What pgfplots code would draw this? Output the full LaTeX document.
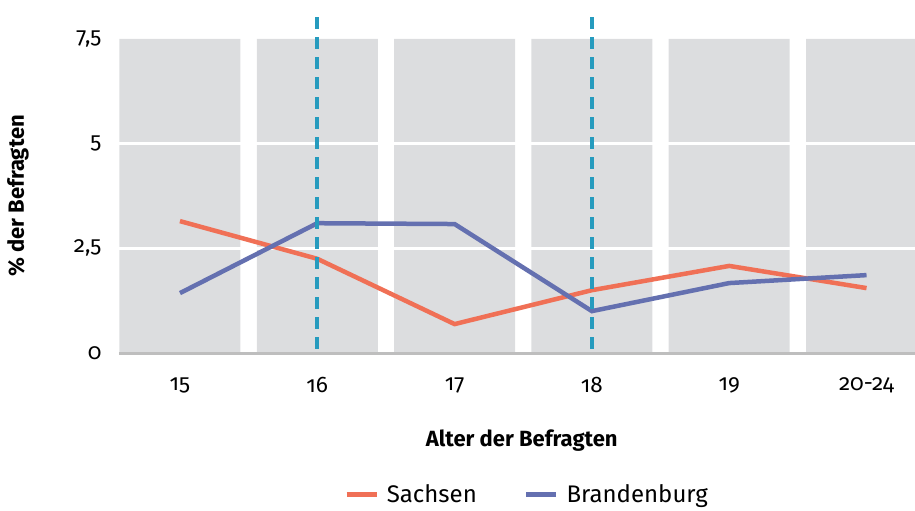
\documentclass[border=0pt]{standalone}
\usepackage{fontspec}
\setmainfont{Fira Sans}[Numbers=OldStyle]
\usepackage{pgfplots}
\pgfplotsset{compat=1.18}
\definecolor{bggray}{RGB}{220,221,223}
\definecolor{sachsen}{RGB}{240,112,86}
\definecolor{brand}{RGB}{100,112,176}
\definecolor{dteal}{RGB}{38,155,190}
\definecolor{axgray}{RGB}{190,190,190}
\begin{document}
\fontsize{22}{26}\selectfont
\begin{tikzpicture}
\begin{axis}[
  scale only axis,
  width=796pt, height=314pt,
  xmin=-0.444, xmax=5.353,
  ymin=0, ymax=7.5,
  clip=false,
  axis line style={draw=none},
  major tick length=0pt,
  xtick={0,1,2,3,4,5},
  xticklabels={15,16,17,18,19,20-24},
  ytick={0,2.5,5,7.5},
  /pgf/number format/use comma,
  /pgf/number format/assume math mode=true,
  tick label style={font=\fontsize{22.5}{26}\selectfont},
  xticklabel style={yshift=-17pt},
  yticklabel style={xshift=-10pt},
  xlabel={\bfseries Alter der Befragten},
  ylabel={\bfseries \% der Befragten},
  xlabel style={at={(axis description cs:0.506,-0.280)}, anchor=center, font=\fontsize{22}{26}\selectfont},
  ylabel style={at={(axis description cs:-0.127,0.5)}, anchor=center, font=\fontsize{22}{26}\selectfont},
  legend columns=2,
  legend style={draw=none, fill=none, at={(axis description cs:0.5125,-0.452)}, anchor=center,
    font=\fontsize{24}{28}\selectfont,
    /tikz/every even column/.append style={column sep=45pt}},
  legend image code/.code={\draw[#1, line width=5pt] (0pt,0pt) -- (30pt,0pt); \path (36pt,0pt);},
]
% gray column backgrounds
\addplot[ybar, fill=bggray, draw=none, bar width=0.881, forget plot]
  coordinates {(0,7.5) (1,7.5) (2,7.5) (3,7.5) (4,7.5) (5,7.5)};
% white grid lines
\addplot[white, line width=3pt, forget plot] coordinates {(-0.444,2.5) (5.353,2.5)};
\addplot[white, line width=3pt, forget plot] coordinates {(-0.444,5) (5.353,5)};
% bottom axis line
\addplot[axgray, line width=3pt, forget plot] coordinates {(-0.444,-0.02) (5.353,-0.02)};
% data
\addplot[sachsen, line width=4.5pt] coordinates {(0,3.15) (1,2.25) (2,0.69) (3,1.50) (4,2.08) (5,1.55)};
\addlegendentry{Sachsen}
\addplot[brand, line width=4.5pt] coordinates {(0,1.43) (1,3.10) (2,3.08) (3,1.00) (4,1.67) (5,1.86)};
\addlegendentry{Brandenburg}
% dashed markers
\addplot[dteal, line width=4pt, dash pattern=on 12pt off 8pt, forget plot] coordinates {(1,8.02) (1,0)};
\addplot[dteal, line width=4pt, dash pattern=on 12pt off 8pt, forget plot] coordinates {(3,8.02) (3,0)};
\coordinate (ll) at (rel axis cs:0,0);
\coordinate (ur) at (rel axis cs:1,1);
\end{axis}
\pgfresetboundingbox
\path[use as bounding box] ([xshift=-119pt,yshift=-158pt]ll) rectangle ([yshift=39pt]ur);
\end{tikzpicture}
\end{document}
